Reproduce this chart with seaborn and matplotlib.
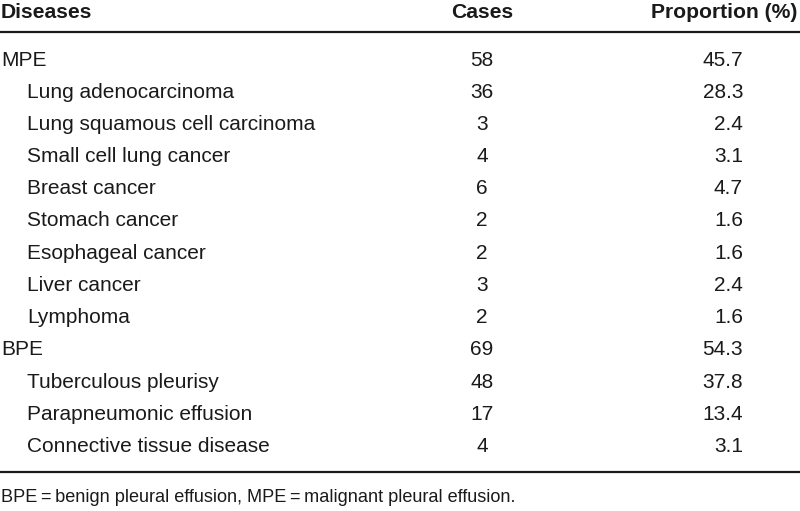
import matplotlib
matplotlib.use("Agg")
import matplotlib.pyplot as plt
import seaborn as sns

diseases = ["MPE", "Lung adenocarcinoma", "Lung squamous cell carcinoma",
            "Small cell lung cancer", "Breast cancer", "Stomach cancer",
            "Esophageal cancer", "Liver cancer", "Lymphoma", "BPE",
            "Tuberculous pleurisy", "Parapneumonic effusion",
            "Connective tissue disease"]
cases = [58, 36, 3, 4, 6, 2, 2, 3, 2, 69, 48, 17, 4]
proportions = [45.7, 28.3, 2.4, 3.1, 4.7, 1.6, 1.6, 2.4, 1.6, 54.3, 37.8, 13.4, 3.1]
is_group = [True, False, False, False, False, False, False, False, False,
            True, False, False, False]
headers = ["Diseases", "Cases", "Proportion (%)"]
footnote = "BPE\u2009=\u2009benign pleural effusion, MPE\u2009=\u2009malignant pleural effusion."

sns.set_theme(style="white")
plt.rcParams["font.family"] = ["Liberation Sans", "DejaVu Sans"]

fig = plt.figure(figsize=(8, 5.11), dpi=100)
ax = fig.add_axes([0, 0, 1, 1])
ax.set_xlim(0, 800)
ax.set_ylim(511, 0)
ax.axis("off")

fs = 15
col = "#1a1a1a"
ax.text(1, 13, headers[0], fontsize=15.2, fontweight="bold", ha="left", va="center", color=col)
ax.text(482, 13, headers[1], fontsize=15.2, fontweight="bold", ha="center", va="center", color=col)
ax.text(797, 13, headers[2], fontsize=15.2, fontweight="bold", ha="right", va="center", color=col)
ax.hlines(32, 0, 800, color=col, lw=1.6)

y0, dy = 60, 32.2
for i, (d, c, p, g) in enumerate(zip(diseases, cases, proportions, is_group)):
    y = y0 + i * dy
    ax.text(1 if g else 27, y, d, fontsize=fs, ha="left", va="center", color=col)
    ax.text(482, y, f"{c}", fontsize=fs, ha="center", va="center", color=col)
    ax.text(743, y, f"{p:.1f}", fontsize=fs, ha="right", va="center", color=col)

ax.hlines(472, 0, 800, color=col, lw=1.6)
ax.text(1, 497, footnote, fontsize=13.1, ha="left", va="center", color=col)

fig.savefig("out.png", dpi=100)
